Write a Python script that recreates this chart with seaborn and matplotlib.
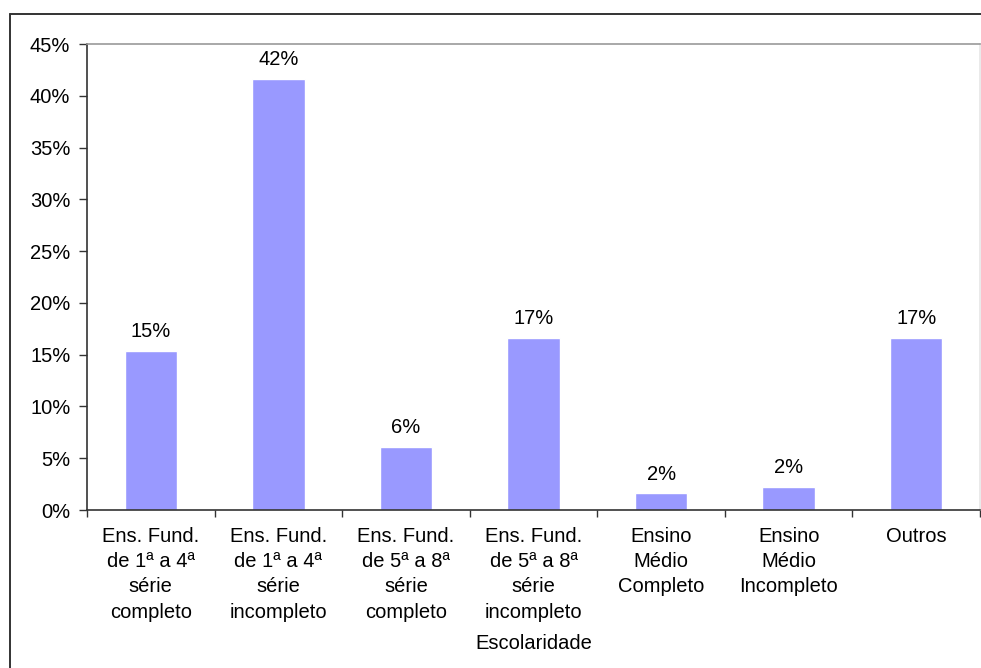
import matplotlib
matplotlib.use("Agg")
import matplotlib.pyplot as plt
from matplotlib.lines import Line2D
import numpy as np
import pandas as pd
import seaborn as sns

# Distribution by schooling level (percent)
categories = [
    "Ens. Fund.\nde 1ª a 4ª\nsérie\ncompleto",
    "Ens. Fund.\nde 1ª a 4ª\nsérie\nincompleto",
    "Ens. Fund.\nde 5ª a 8ª\nsérie\ncompleto",
    "Ens. Fund.\nde 5ª a 8ª\nsérie\nincompleto",
    "Ensino\nMédio\nCompleto",
    "Ensino\nMédio\nIncompleto",
    "Outros",
]
percentages = [15.4, 41.6, 6.1, 16.6, 1.6, 2.2, 16.6]
y_ticks = [0, 5, 10, 15, 20, 25, 30, 35, 40, 45]

df = pd.DataFrame({"Escolaridade": categories, "Percentual": percentages})

sns.set_style("white")
plt.rcParams["font.family"] = ["Liberation Sans", "DejaVu Sans"]
plt.rcParams["text.color"] = "black"
plt.rcParams["axes.labelcolor"] = "black"
plt.rcParams["xtick.labelcolor"] = "black"
plt.rcParams["ytick.labelcolor"] = "black"

fig = plt.figure(figsize=(9.81, 6.68), dpi=100)
ax = fig.add_axes([87 / 981, 1 - 510 / 668, (980 - 87) / 981, (510 - 44) / 668])

sns.barplot(data=df, x="Escolaridade", y="Percentual", color="#9999FF",
            saturation=1, width=0.41, ax=ax)

ax.set_xlim(-0.5, len(categories) - 0.5)
ax.set_ylim(0, 45)
ax.set_yticks(y_ticks)
ax.set_yticklabels([f"{t}%" for t in y_ticks])

# Category labels centred on bars, tick marks on category boundaries
ax.set_xticks(range(len(categories)))
ax.set_xticklabels(categories, linespacing=1.42)
ax.set_xticks(np.arange(-0.5, len(categories), 1.0), minor=True)
ax.tick_params(axis="x", which="major", length=0, pad=12, labelsize=14.5,
               labelcolor="black")
ax.tick_params(axis="x", which="minor", length=5, width=1.0, color="#333333",
               direction="out", bottom=True)
ax.tick_params(axis="y", length=6, width=1.0, color="#333333", direction="out",
               left=True, pad=6, labelsize=14.5, labelcolor="black")

ax.set_xlabel("Escolaridade", fontsize=14.5, labelpad=9, color="black")
ax.set_ylabel("")

for side, col in [("left", "#333333"), ("bottom", "#333333"),
                  ("top", "#999999"), ("right", "#e6e6e6")]:
    ax.spines[side].set_visible(True)
    ax.spines[side].set_color(col)
    ax.spines[side].set_linewidth(1.2)

for container in ax.containers:
    ax.bar_label(container, labels=[f"{v:.0f}%" for v in percentages],
                 padding=7, fontsize=14.5, color="black")

# Outer chart frame (left and top edges)
fig.add_artist(Line2D([9.5 / 981, 9.5 / 981], [0, 1 - 13.5 / 668],
                      transform=fig.transFigure, color="#333333", lw=1.4))
fig.add_artist(Line2D([9.5 / 981, 1], [1 - 13.5 / 668, 1 - 13.5 / 668],
                      transform=fig.transFigure, color="#333333", lw=1.4))

fig.savefig("out.png", dpi=100)
